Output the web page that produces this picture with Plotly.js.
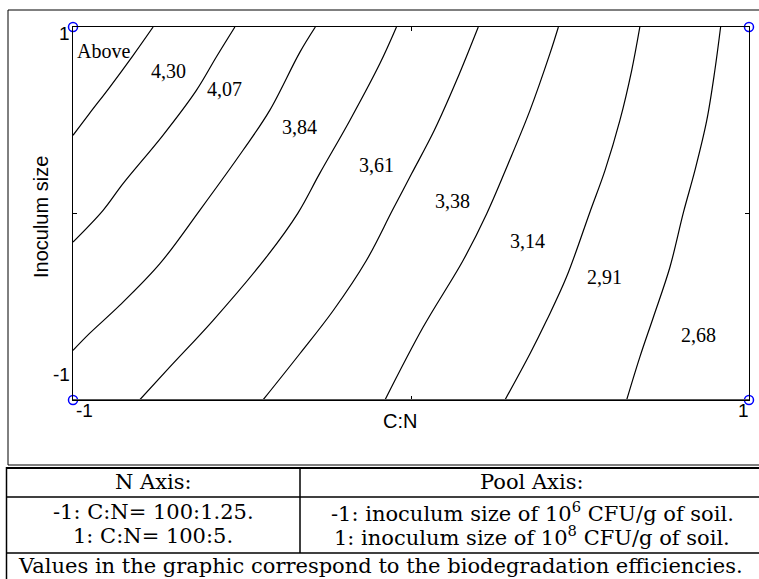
<!DOCTYPE html>
<html>
<head>
<meta charset="utf-8">
<script src="https://cdn.plot.ly/plotly-3.0.1.min.js"></script>
<style>html,body{margin:0;padding:0;background:#fff;}#chart{width:759px;height:579px;}</style>
</head>
<body>
<div id="chart"></div>
<script>
// Contour levels (biodegradation efficiency) and their traced iso-lines (coded units)
const levels = [4.30, 4.07, 3.84, 3.61, 3.38, 3.14, 2.91, 2.68];
const lineX = [
  [-0.763, -0.822, -0.891, -0.951, -1.000],
  [-0.521, -0.576, -0.635, -0.734, -0.852, -0.911, -1.000],
  [-0.283, -0.329, -0.418, -0.497, -0.625, -0.743, -0.862, -0.951, -1.000],
  [-0.043, -0.092, -0.181, -0.270, -0.335, -0.428, -0.586, -0.714, -0.803],
  [0.199, 0.135, 0.069, 0.002, -0.055, -0.132, -0.230, -0.329, -0.438],
  [0.436, 0.411, 0.352, 0.2875, 0.224, 0.154, 0.036, -0.077],
  [0.677, 0.653, 0.618, 0.574, 0.530, 0.460, 0.401, 0.352, 0.278],
  [0.916, 0.899, 0.875, 0.840, 0.806, 0.766, 0.717, 0.677, 0.638]
];
const lineY = [
  [1.000, 0.848, 0.678, 0.537, 0.419],
  [1.000, 0.839, 0.660, 0.419, 0.160, 0.017, -0.153],
  [1.000, 0.864, 0.553, 0.339, 0.017, -0.269, -0.493, -0.643, -0.734],
  [1.000, 0.804, 0.499, 0.215, 0.001, -0.234, -0.574, -0.824, -1.000],
  [1.000, 0.714, 0.446, 0.214, 0.017, -0.252, -0.520, -0.752, -1.000],
  [1.000, 0.857, 0.553, 0.267, -0.001, -0.252, -0.609, -1.000],
  [1.000, 0.768, 0.499, 0.231, 0.011, -0.341, -0.574, -0.752, -1.000],
  [1.000, 0.768, 0.499, 0.231, 0.006, -0.288, -0.556, -0.770, -1.000]
];
// Band labels
const bandLabels = ['Above', '4,30', '4,07', '3,84', '3,61', '3,38', '3,14', '2,91', '2,68'];
const bandLabelX = [-0.909, -0.718, -0.551, -0.329, -0.101, 0.124, 0.346, 0.571, 0.852];
const bandLabelY = [0.870, 0.765, 0.666, 0.462, 0.258, 0.065, -0.150, -0.343, -0.649];
// Design points (corners)
const designX = [-1, 1, -1, 1];
const designY = [1, 1, -1, -1];
// Axis texts
const xTickLabels = ['-1', '1'];
const yTickLabels = ['-1', '1'];
const xTitle = 'C:N';
const yTitle = 'Inoculum size';
// Table texts
const tableHeader = ['N Axis:', 'Pool Axis:'];
const tableLeft = ['-1: C:N= 100:1.25.', '1: C:N= 100:5.'];
const tableRight = ['-1: inoculum size of 10<sup>6</sup> CFU/g of soil.', '1: inoculum size of 10<sup>8</sup> CFU/g of soil.'];
const tableFooter = 'Values in the graphic correspond to the biodegradation efficiencies.';

const SANS = 'Liberation Sans, Arial, sans-serif';
const SERIF = 'Liberation Serif, Times New Roman, serif';
const TSERIF = 'DejaVu Serif, serif';

// pixel -> paper helpers (plot area: x 73..749, y 27..400)
const L = 73, R = 749, T = 27, B = 400;
const px = v => (v - L) / (R - L);
const py = v => (B - v) / (B - T);

const traces = levels.map((lv, i) => ({
  type: 'scatter', mode: 'lines', name: String(lv),
  x: lineX[i], y: lineY[i],
  line: {color: '#000', width: 1.2, shape: 'spline', smoothing: 1},
  hoverinfo: 'skip', showlegend: false
}));
traces.push({
  type: 'scatter', mode: 'markers', x: designX, y: designY,
  marker: {symbol: 'circle-open', size: 9, color: '#0000ff', line: {width: 1.5, color: '#0000ff'}},
  cliponaxis: false, showlegend: false, hoverinfo: 'skip'
});

const annotations = [];
const ann = (o) => annotations.push(Object.assign({showarrow: false, xanchor: 'center', yanchor: 'middle'}, o));
bandLabels.forEach((t, i) => ann({
  text: t, x: bandLabelX[i], y: bandLabelY[i], xref: 'x', yref: 'y',
  font: {family: SERIF, size: 20, color: '#000'}
}));
// tick labels
ann({text: yTickLabels[1], xref: 'paper', yref: 'y', x: 0, y: 1, xanchor: 'right', xshift: -1, yshift: -6, font: {family: SANS, size: 19, color: '#000'}});
ann({text: yTickLabels[0], xref: 'paper', yref: 'y', x: 0, y: -1, xanchor: 'right', xshift: -1, yshift: 26, font: {family: SANS, size: 19, color: '#000'}});
ann({text: xTickLabels[0], xref: 'x', yref: 'paper', x: -1, y: py(410.5), xanchor: 'left', xshift: 1, font: {family: SANS, size: 19, color: '#000'}});
ann({text: xTickLabels[1], xref: 'x', yref: 'paper', x: 1, y: py(410.5), xanchor: 'right', xshift: 2, font: {family: SANS, size: 19, color: '#000'}});
// axis titles
ann({text: xTitle, xref: 'paper', yref: 'paper', x: px(400), y: py(421), font: {family: SANS, size: 20, color: '#000'}});
ann({text: yTitle, xref: 'paper', yref: 'paper', x: px(41), y: py(217), textangle: -90, font: {family: SANS, size: 20, color: '#000'}});
// table
const colL = 153, colR = 532, divX = 300;
const tf = {family: TSERIF, size: 21, color: '#000'};
ann({text: tableHeader[0], xref: 'paper', yref: 'paper', x: px(colL), y: py(482), font: tf});
ann({text: tableHeader[1], xref: 'paper', yref: 'paper', x: px(colR), y: py(482), font: tf});
[512, 536].forEach((yy, i) => {
  ann({text: tableLeft[i], xref: 'paper', yref: 'paper', x: px(colL), y: py(yy), font: tf});
  ann({text: tableRight[i], xref: 'paper', yref: 'paper', x: px(colR), y: py(yy), font: tf});
});
ann({text: tableFooter, xref: 'paper', yref: 'paper', x: px(380), y: py(566), font: tf});

const lineSeg = (x0, y0, x1, y1, w, c) => ({type: 'line', xref: 'paper', yref: 'paper', x0: px(x0), y0: py(y0), x1: px(x1), y1: py(y1), line: {color: c || '#000', width: w || 1}});
const shapes = [
  // outer frame of the figure
  {type: 'rect', xref: 'paper', yref: 'paper', x0: px(8), y0: py(465), x1: px(764), y1: py(10), line: {color: '#000', width: 1}},
  // table
  lineSeg(6, 468, 764, 468, 2),
  lineSeg(6.5, 467, 6.5, 585, 1.5),
  lineSeg(6, 497, 764, 497, 1.5),
  lineSeg(6, 553, 764, 553, 1.5),
  lineSeg(divX, 467, divX, 553, 1.5),
  // bottom axis drawn slightly heavier/grey
  {type: 'line', xref: 'x', yref: 'y', x0: -1, y0: -1, x1: 1, y1: -1, line: {color: '#555', width: 2}}
];

const layout = {
  width: 759, height: 579,
  margin: {l: L, r: 759 - R, t: T, b: 579 - B, pad: 0},
  paper_bgcolor: '#fff', plot_bgcolor: '#fff',
  showlegend: false,
  xaxis: {range: [-1, 1], showgrid: false, zeroline: false, showline: true, mirror: 'ticks', linecolor: '#000', linewidth: 1,
          tickvals: [0], showticklabels: false, ticks: 'inside', ticklen: 4, tickcolor: '#000', fixedrange: true},
  yaxis: {range: [-1, 1], showgrid: false, zeroline: false, showline: true, mirror: 'ticks', linecolor: '#000', linewidth: 1,
          tickvals: [0], showticklabels: false, ticks: 'inside', ticklen: 4, tickcolor: '#000', fixedrange: true},
  annotations: annotations,
  shapes: shapes
};

Plotly.newPlot('chart', traces, layout, {staticPlot: true, displayModeBar: false});
</script>
</body>
</html>
